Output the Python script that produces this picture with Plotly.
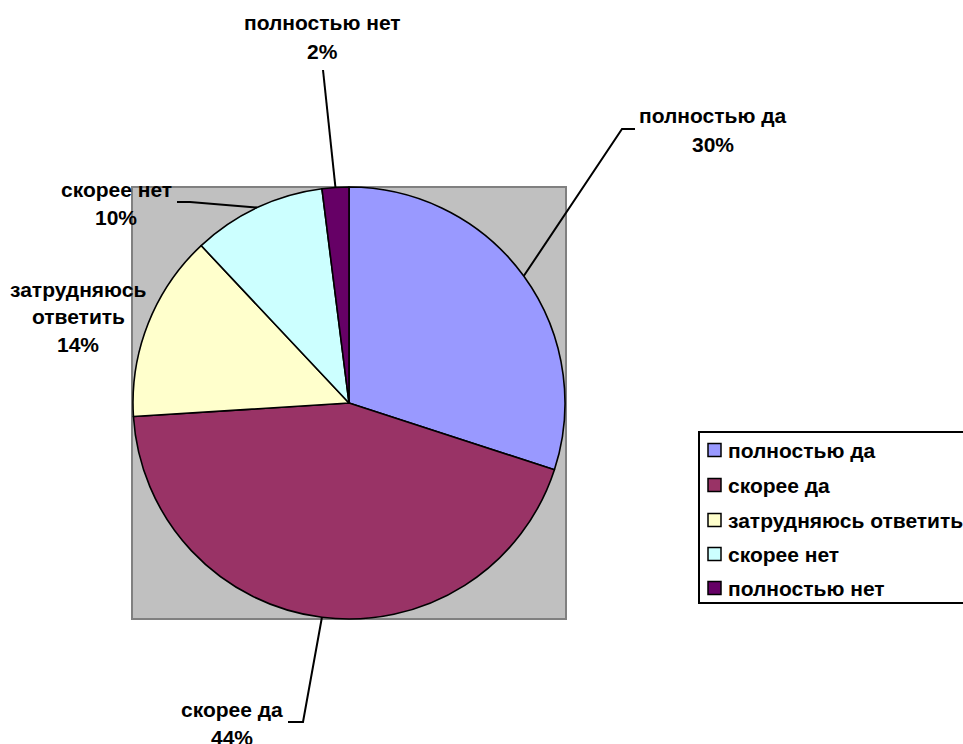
import math
import plotly.graph_objects as go

# ---- data ----
categories = ["полностью да", "скорее да", "затрудняюсь ответить", "скорее нет", "полностью нет"]
values = [30, 44, 14, 10, 2]
label_lines = [["полностью да"], ["скорее да"], ["затрудняюсь", "ответить"], ["скорее нет"], ["полностью нет"]]
colors = ["#9999FF", "#993366", "#FFFFCC", "#CCFFFF", "#660066"]

W, H = 963, 744
FONT = "Liberation Sans, Arial, sans-serif"
FS = 21

def px(x):
    return x / W

def py(y):
    return 1 - y / H

# pie geometry (pixels)
cx, cy, R = 349, 403, 216

# label placement (pixels): center of first text line, line spacing
label_pos = [(713, 116), (232, 709), (78, 289), (116, 189), (322, 23)]
line_gap = 28
# leader elbows / ends (pixels) -- None = no leader
leaders = [
    [(622, 129), (635, 129)],
    [(303, 722), (288, 722)],
    None,
    [(190, 202), (177, 202)],
    [(323, 70)],
]

fig = go.Figure()
fig.add_trace(go.Pie(
    labels=categories, values=values, sort=False, direction="clockwise", rotation=0,
    marker=dict(colors=colors, line=dict(color="#000000", width=1.6)),
    textinfo="none", hoverinfo="label+percent", showlegend=False,
    domain=dict(x=[px(cx - R), px(cx + R)], y=[py(cy + R), py(cy - R)]),
))

shapes = []
# grey plot area
shapes.append(dict(type="rect", xref="paper", yref="paper", layer="below",
                   x0=px(132), x1=px(566), y0=py(619), y1=py(187),
                   fillcolor="#C0C0C0", line=dict(color="#808080", width=2)))

annotations = []
total = sum(values)
cum = 0
for i, v in enumerate(values):
    th = math.radians(360 * (cum + v / 2) / total)
    cum += v
    ex, ey = cx + R * math.sin(th), cy - R * math.cos(th)
    if leaders[i]:
        pts = [(ex, ey)] + leaders[i]
        path = "M " + " L ".join(f"{px(a)},{py(b)}" for a, b in pts)
        shapes.append(dict(type="path", xref="paper", yref="paper", path=path,
                           line=dict(color="#000000", width=2)))
    lx, ly = label_pos[i]
    lines = label_lines[i] + [f"{round(100 * v / total)}%"]
    for k, t in enumerate(lines):
        annotations.append(dict(x=px(lx), y=py(ly + k * line_gap), xref="paper", yref="paper",
                                text=f"<b>{t}</b>", showarrow=False, xanchor="center", yanchor="middle",
                                font=dict(family=FONT, size=FS, color="#000000")))

# custom legend
leg_x0, leg_y0, leg_y1 = 699, 432, 603
row_y = [450, 485, 520, 554, 588]
shapes.append(dict(type="rect", xref="paper", yref="paper",
                   x0=px(leg_x0), x1=px(leg_x0 + 300), y0=py(leg_y1), y1=py(leg_y0),
                   fillcolor="#FFFFFF", line=dict(color="#000000", width=2), layer="below"))
for i, name in enumerate(categories):
    yy = row_y[i]
    shapes.append(dict(type="rect", xref="paper", yref="paper",
                       x0=px(708), x1=px(721), y0=py(yy + 6.5), y1=py(yy - 6.5),
                       fillcolor=colors[i], line=dict(color="#000000", width=1.5)))
    annotations.append(dict(x=px(726), y=py(yy), xref="paper", yref="paper",
                            text=f"<b>{name}</b>", showarrow=False, xanchor="left", yanchor="middle",
                            font=dict(family=FONT, size=FS, color="#000000")))

fig.update_layout(
    width=W, height=H, margin=dict(l=0, r=0, t=0, b=0),
    paper_bgcolor="#FFFFFF", plot_bgcolor="#FFFFFF",
    shapes=shapes, annotations=annotations, showlegend=False,
)
fig.write_html("out.html", config={"displayModeBar": False},
               post_script="document.body.style.margin='0';document.body.style.overflow='hidden';")
